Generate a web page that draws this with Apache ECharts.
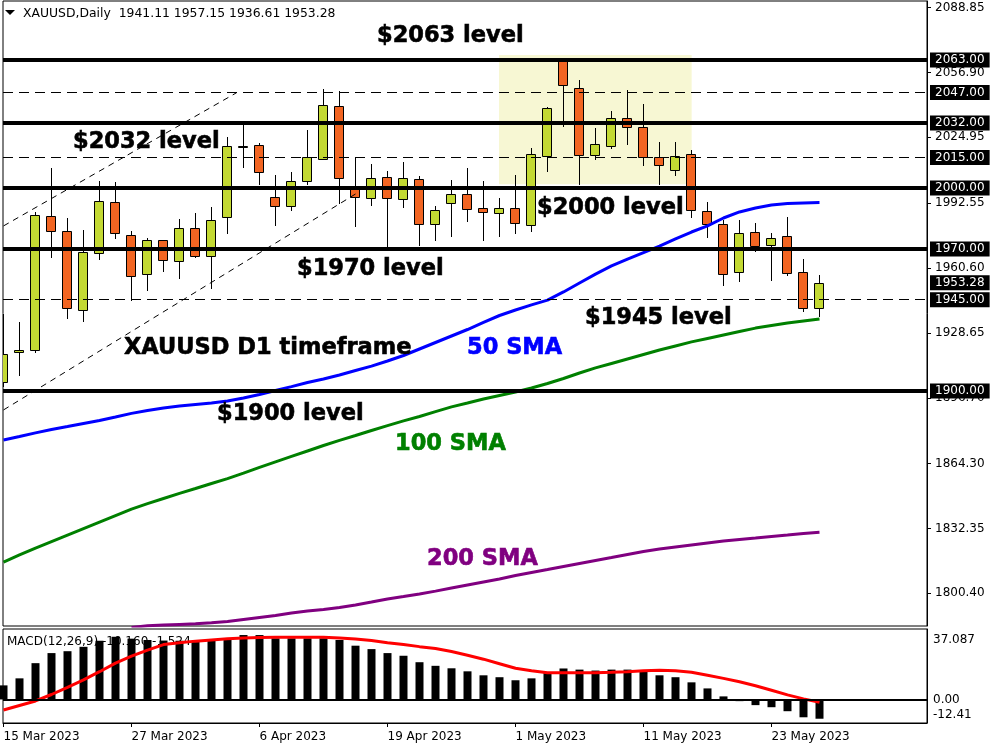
<!DOCTYPE html>
<html><head><meta charset="utf-8">
<script src="https://cdn.jsdelivr.net/npm/echarts@6/dist/echarts.min.js"></script>
<style>html,body{margin:0;padding:0;background:#fff}#c{width:1000px;height:750px}</style>
</head><body><div id="c"></div>
<script>
// ---------- data ----------
const dates = ['15 Mar 2023','16 Mar 2023','17 Mar 2023','20 Mar 2023','21 Mar 2023','22 Mar 2023','23 Mar 2023','24 Mar 2023',
 '27 Mar 2023','28 Mar 2023','29 Mar 2023','30 Mar 2023','31 Mar 2023','3 Apr 2023','4 Apr 2023','5 Apr 2023',
 '6 Apr 2023','10 Apr 2023','11 Apr 2023','12 Apr 2023','13 Apr 2023','14 Apr 2023','17 Apr 2023','18 Apr 2023',
 '19 Apr 2023','20 Apr 2023','21 Apr 2023','24 Apr 2023','25 Apr 2023','26 Apr 2023','27 Apr 2023','28 Apr 2023',
 '1 May 2023','2 May 2023','3 May 2023','4 May 2023','5 May 2023','8 May 2023','9 May 2023','10 May 2023',
 '11 May 2023','12 May 2023','15 May 2023','16 May 2023','17 May 2023','18 May 2023','19 May 2023','22 May 2023',
 '23 May 2023','24 May 2023','25 May 2023','26 May 2023'];
const opens  = [1904.3,1919.1,1920.1,1986.0,1978.7,1939.8,1967.8,1992.9,1976.7,1957.5,1974.2,1963.9,1980.1,1966.3,1985.6,2020.6,2021.0,1995.4,1991.3,2003.3,2014.4,2040.2,1999.8,1994.9,2005.2,1994.4,2004.3,1982.4,1992.4,1996.9,1990.0,1987.5,1990.0,1981.8,2015.9,2062.5,2049.1,2016.1,2020.8,2034.3,2029.9,2015.1,2008.7,2016.6,1988.5,1982.3,1958.5,1978.2,1971.9,1976.3,1958.5,1941.11];
const highs  = [1937.9,1933.9,1988.0,2009.7,1985.1,1979.2,2003.3,2002.8,1978.7,1975.2,1974.5,1984.6,1987.7,1990.5,2024.9,2031.0,2022.0,2006.4,2007.9,2028.5,2048.6,2047.7,2015.1,2011.8,2008.5,2012.8,2005.7,1991.0,2003.9,2009.7,2003.4,1995.1,2006.2,2019.5,2039.8,2064.0,2053.2,2029.4,2037.9,2048.2,2041.3,2022.6,2022.6,2018.7,1993.2,1984.2,1984.2,1982.6,1977.7,1985.8,1964.9,1957.15];
const lows   = [1902.0,1907.6,1918.6,1965.7,1935.6,1934.2,1964.4,1975.0,1944.2,1949.1,1958.8,1955.3,1965.5,1950.1,1977.2,2010.0,2001.5,1981.4,1988.8,2001.3,2013.8,1992.0,1980.9,1991.1,1971.1,1990.3,1971.6,1974.0,1976.0,1983.4,1974.0,1976.0,1977.2,1978.5,2008.0,2030.2,2001.5,2013.8,2019.2,2021.1,2011.0,2001.5,2006.0,1985.1,1975.2,1951.9,1953.8,1968.6,1954.3,1956.8,1939.1,1936.61];
const closes = [1918.1,1920.1,1986.5,1978.7,1940.7,1968.3,1993.4,1977.7,1956.5,1974.2,1964.4,1980.1,1966.3,1984.1,2020.7,2020.9,2007.7,1991.3,2003.3,2015.1,2040.7,2004.8,1995.4,2004.8,1994.9,2004.8,1982.4,1989.0,1996.9,1989.5,1988.0,1990.0,1982.6,2016.6,2039.2,2050.5,2016.1,2021.5,2034.3,2029.9,2015.1,2011.2,2015.9,1989.0,1982.4,1957.5,1977.7,1971.6,1975.2,1958.0,1941.1,1953.28];

const sma50  = [1875.9,1877.6,1879.4,1881.1,1882.5,1884.0,1885.5,1887.2,1889.0,1890.4,1891.7,1892.6,1893.4,1894.1,1895.1,1896.6,1898.3,1900.3,1902.2,1904.2,1905.9,1907.9,1910.1,1912.3,1914.8,1917.5,1920.7,1923.9,1927.1,1930.3,1933.8,1937.2,1939.9,1942.4,1944.8,1948.8,1953.2,1957.6,1961.6,1965.0,1968.2,1971.4,1974.9,1978.3,1981.3,1985.2,1988.2,1990.1,1991.6,1992.4,1992.6,1992.8];
const sma100 = [1815.8,1819.3,1822.7,1825.9,1829.1,1832.3,1835.5,1838.7,1841.9,1844.6,1847.1,1849.6,1852.0,1854.5,1856.9,1859.6,1862.4,1865.1,1867.8,1870.5,1873.2,1875.7,1878.1,1880.6,1883.0,1885.3,1887.5,1889.9,1892.2,1894.1,1896.1,1897.8,1899.5,1901.5,1903.7,1906.2,1908.9,1911.4,1913.6,1915.8,1918.0,1920.2,1922.2,1924.2,1925.9,1927.6,1929.3,1931.0,1932.3,1933.5,1934.5,1935.5];
const sma200 = [null,null,null,null,null,null,null,null,1783.6,1784.4,1784.8,1785.1,1785.4,1785.9,1786.5,1787.5,1788.5,1789.5,1790.7,1791.7,1792.4,1793.4,1794.7,1796.1,1797.6,1798.8,1800.1,1801.5,1803.0,1804.5,1806.0,1807.5,1809.2,1810.7,1812.1,1813.6,1815.1,1816.6,1818.0,1819.5,1821.0,1822.2,1823.2,1824.2,1825.2,1826.2,1826.9,1827.6,1828.4,1829.1,1829.9,1830.5];

const macdMain   = [7.4,11.1,19.1,24.4,25.4,27.7,30.9,33.0,32.0,31.3,31.0,30.9,30.5,30.9,32.2,33.9,33.9,32.2,32.2,32.2,32.2,31.3,28.3,26.5,24.4,23.0,19.6,17.7,16.4,14.8,12.7,11.7,10.1,11.1,13.9,16.3,15.7,15.2,15.7,15.7,14.8,12.7,11.7,9.0,5.8,1.6,-0.9,-3.0,-4.1,-6.2,-9.4,-10.16];
const macdSignal = [-5.6,-3.2,-0.8,2.6,6.4,10.3,14.6,19.1,22.8,26.0,28.9,29.9,30.7,31.3,31.9,32.3,32.6,32.7,32.7,32.7,32.7,32.4,31.8,31.0,29.9,28.9,27.8,26.8,25.2,23.3,21.2,18.8,16.4,15.1,14.1,14.0,14.0,14.1,14.3,14.6,15.1,15.4,15.1,14.3,12.7,11.1,9.3,7.2,4.8,2.4,0.3,-1.524];

const priceTicks = [2088.85,2056.90,2024.95,1992.55,1960.60,1928.65,1896.70,1864.30,1832.35,1800.40];
const macdTicks = [37.087, 0, -12.41];
const macdTickLabels = ['37.087','0.00','-12.41'];
const dateTickIdx = [0,8,16,24,32,40,48];

const solidLevels = [2063, 2032, 2000, 1970, 1900];
const dashedLevels = [2047, 2015, 1945];
const trendUpper = [[0, 1981.3], [14.57, 2046.9]];
const trendLower = [[0, 1890.7], [22.08, 1997.4]];
const zoneFrom = [30.97, 2065.5], zoneTo = [43.01, 2001.8];

// ---------- chart ----------
const FONT = 'DejaVu Sans';
const BULL = '#C3D933', BEAR = '#F26522';
const xMin = -0.03125, xMax = 57.71875;
const n = closes.length;
const candleData = closes.map((c, i) => [i, opens[i], highs[i], lows[i], c]);
const idx = a => a.map((v, i) => [i, v]);
const last = n - 1;

function renderCandle(params, api) {
  const i = api.value(0), o = api.value(1), h = api.value(2), l = api.value(3), c = api.value(4);
  const pO = api.coord([i, o]), pC = api.coord([i, c]), pH = api.coord([i, h]), pL = api.coord([i, l]);
  const x = Math.floor(pO[0]) + 0.5;
  const top = Math.round(Math.min(pO[1], pC[1])) + 0.5;
  const bot = Math.round(Math.max(pO[1], pC[1])) + 0.5;
  return {
    type: 'group',
    children: [
      { type: 'line', shape: { x1: x, y1: Math.round(pH[1]), x2: x, y2: Math.round(pL[1]) }, style: { stroke: '#000', lineWidth: 1 } },
      { type: 'rect', shape: { x: x - 5, y: top, width: 9, height: Math.max(bot - top, 1) },
        style: { fill: c >= o ? BULL : BEAR, stroke: '#000', lineWidth: 1 } }
    ]
  };
}

const levelLabel = {
  show: true, position: 'end', distance: 3, formatter: p => Number(p.value).toFixed(2),
  backgroundColor: '#000', color: '#fff', padding: [1, 5, 1, 5], fontFamily: FONT, fontSize: 12, lineHeight: 13
};

const levelData = [
  ...solidLevels.map(v => ({ yAxis: v, lineStyle: { type: 'solid', width: 4, color: '#000' } })),
  ...dashedLevels.map(v => ({ yAxis: v, lineStyle: { type: [10, 6], width: 1, color: '#000' } })),
  { yAxis: closes[last], lineStyle: { color: 'rgba(0,0,0,0)', width: 0 } },
  [{ coord: trendUpper[0], lineStyle: { type: [6, 5], width: 1, color: '#000' }, label: { show: false } }, { coord: trendUpper[1] }],
  [{ coord: trendLower[0], lineStyle: { type: [6, 5], width: 1, color: '#000' }, label: { show: false } }, { coord: trendLower[1] }]
];

const annot = (text, x, y, color) => ({
  type: 'text', z: 100, silent: true,
  style: { text, x, y, fill: color || '#000', font: 'bold 22.5px "DejaVu Sans"', verticalAlign: 'middle', stroke: color || '#000', lineWidth: 0.6 }
});

const f2 = v => v.toFixed(2);
const option = {
  animation: false,
  backgroundColor: '#fff',
  grid: [
    { left: 3, top: 1, width: 924, height: 625, show: true, borderColor: '#000', borderWidth: 1, backgroundColor: '#fff' },
    { left: 3, top: 629, width: 924, height: 94, show: true, borderColor: '#000', borderWidth: 1, backgroundColor: '#fff' }
  ],
  xAxis: [
    { type: 'value', gridIndex: 0, min: xMin, max: xMax, axisLine: { show: false, onZero: false }, axisTick: { show: false }, axisLabel: { show: false }, splitLine: { show: false } },
    { type: 'value', gridIndex: 1, min: xMin, max: xMax,
      axisLine: { show: true, onZero: false, lineStyle: { color: '#000' } },
      axisTick: { show: true, customValues: dateTickIdx, length: 4, lineStyle: { color: '#000' } },
      axisLabel: { show: true, customValues: dateTickIdx, formatter: v => dates[Math.round(v)], align: 'left', color: '#000', fontFamily: FONT, fontSize: 12, margin: 8 },
      splitLine: { show: false } }
  ],
  yAxis: [
    { type: 'value', gridIndex: 0, position: 'right', min: 1784.32, max: 2092.05,
      axisLine: { show: true, onZero: false, lineStyle: { color: '#000' } },
      axisTick: { show: true, customValues: priceTicks, length: 4, lineStyle: { color: '#000' } },
      axisLabel: { show: true, customValues: priceTicks, formatter: f2, color: '#000', fontFamily: FONT, fontSize: 12, margin: 8 },
      splitLine: { show: false } },
    { type: 'value', gridIndex: 1, position: 'right', min: -12.41, max: 37.087,
      axisLine: { show: true, onZero: false, lineStyle: { color: '#000' } },
      axisTick: { show: false },
      axisLabel: { show: true, customValues: macdTicks, margin: 6,
        formatter: v => {
          const k = macdTicks.findIndex(t => Math.abs(t - v) < 1e-6);
          const s = k >= 0 ? macdTickLabels[k] : String(v);
          return k === 0 ? '{t|' + s + '}' : (k === macdTicks.length - 1 ? '{b|' + s + '}' : '{m|' + s + '}');
        },
        rich: {
          t: { padding: [22, 0, 0, 0], color: '#000', fontFamily: FONT, fontSize: 12 },
          b: { padding: [0, 0, 16, 0], color: '#000', fontFamily: FONT, fontSize: 12 },
          m: { color: '#000', fontFamily: FONT, fontSize: 12 }
        } },
      splitLine: { show: false } }
  ],
  series: [
    { name: 'zone', type: 'line', xAxisIndex: 0, yAxisIndex: 0, z: 1, data: [[0, 2000]], symbol: 'none', lineStyle: { width: 0, opacity: 0 },
      markArea: { silent: true, itemStyle: { color: '#F7F7D3' }, data: [[{ coord: zoneFrom }, { coord: zoneTo }]] } },
    { name: 'XAUUSD', type: 'custom', xAxisIndex: 0, yAxisIndex: 0, z: 2, clip: true, renderItem: renderCandle, data: candleData,
      encode: { x: 0, y: [1, 2, 3, 4] } },
    { name: '200 SMA', type: 'line', xAxisIndex: 0, yAxisIndex: 0, z: 3, data: idx(sma200), showSymbol: false, symbol: 'none', clip: true,
      lineStyle: { color: '#800080', width: 3 } },
    { name: '100 SMA', type: 'line', xAxisIndex: 0, yAxisIndex: 0, z: 3, data: idx(sma100), showSymbol: false, symbol: 'none', clip: true,
      lineStyle: { color: '#008000', width: 3 } },
    { name: '50 SMA', type: 'line', xAxisIndex: 0, yAxisIndex: 0, z: 3, data: idx(sma50), showSymbol: false, symbol: 'none', clip: true,
      lineStyle: { color: '#0000FF', width: 3 } },
    { name: 'levels', type: 'line', xAxisIndex: 0, yAxisIndex: 0, z: 4, data: [[0, 2000]], symbol: 'none', lineStyle: { width: 0, opacity: 0 },
      markLine: { silent: true, symbol: ['none', 'none'], label: levelLabel, data: levelData } },
    { name: 'MACD', type: 'bar', xAxisIndex: 1, yAxisIndex: 1, z: 2, barWidth: 8, data: idx(macdMain), itemStyle: { color: '#000' }, clip: true,
      markLine: { silent: true, symbol: ['none', 'none'], label: { show: false }, lineStyle: { color: '#000', width: 2, type: 'solid' }, data: [{ yAxis: 0 }] } },
    { name: 'Signal', type: 'line', xAxisIndex: 1, yAxisIndex: 1, z: 3, data: idx(macdSignal), showSymbol: false, symbol: 'none',
      lineStyle: { color: '#FF0000', width: 3 } }
  ],
  graphic: [
    { type: 'polygon', z: 100, silent: true, shape: { points: [[5, 10], [15, 10], [10, 15]] }, style: { fill: '#000' } },
    { type: 'text', z: 100, silent: true, style: { text: 'XAUUSD,Daily  ' + [opens[last], highs[last], lows[last], closes[last]].map(f2).join(' '),
      x: 23, y: 13.5, fill: '#000', font: '12.4px "DejaVu Sans"', verticalAlign: 'middle' } },
    { type: 'text', z: 0, silent: true, style: { text: 'MACD(12,26,9) ' + macdMain[last].toFixed(3) + ' ' + macdSignal[last].toFixed(3),
      x: 7, y: 642, fill: '#000', font: '12px "DejaVu Sans"', verticalAlign: 'middle' } },
    annot('$2063 level', 377, 36),
    annot('$2032 level', 73, 142),
    annot('$2000 level', 537, 208),
    annot('$1970 level', 297, 269),
    annot('$1945 level', 585, 318),
    annot('XAUUSD D1 timeframe', 124, 348),
    annot('50 SMA', 467, 348, '#0000FF'),
    annot('$1900 level', 217, 414),
    annot('100 SMA', 395, 444, '#008000'),
    annot('200 SMA', 427, 559, '#800080')
  ]
};
const chart = echarts.init(document.getElementById('c'), null, { renderer: 'canvas' });
chart.setOption(option);
</script>
</body></html>
